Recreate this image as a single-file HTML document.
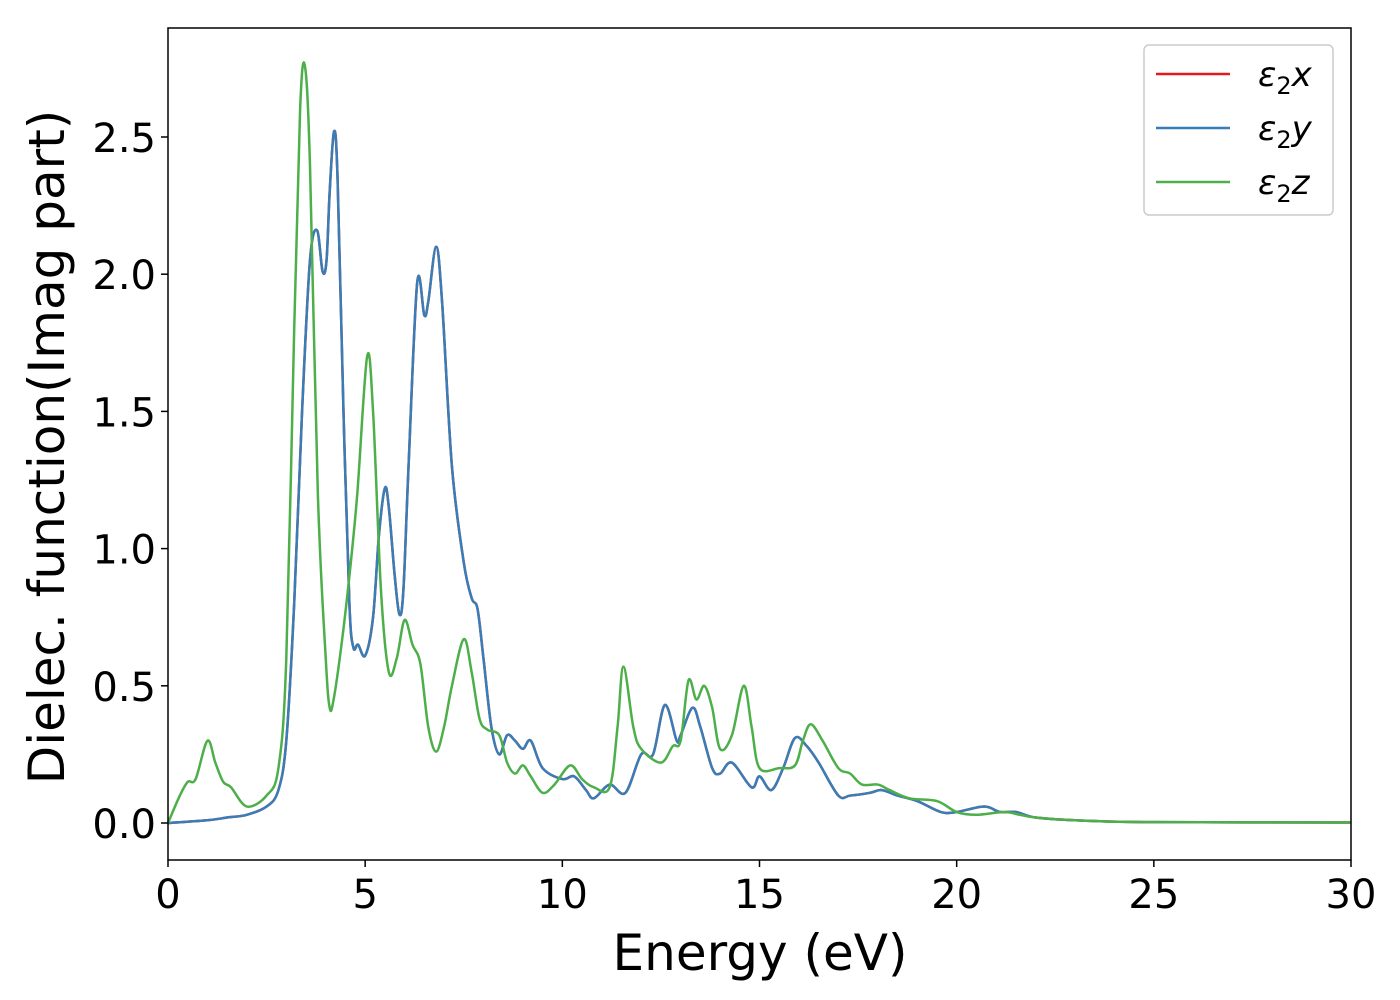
<!DOCTYPE html>
<html><head><meta charset="utf-8"><style>
html,body{margin:0;padding:0;background:#fff;}
svg{display:block;font-family:"DejaVu Sans","Liberation Sans",sans-serif;}
</style></head><body>
<svg id="chart" width="1400" height="1000">
<rect x="0" y="0" width="1400" height="1000" fill="#fff"/>
<g id="series"></g>
<rect x="168" y="28" width="1183" height="832" fill="none" stroke="#000" stroke-width="1.5"/>
<g id="axes"></g>
<text x="760" y="970" font-size="50" text-anchor="middle">Energy (eV)</text>
<text transform="translate(64,447) rotate(-90)" font-size="50" text-anchor="middle">Dielec. function(Imag part)</text>
<g>
<rect x="1144" y="45" width="189" height="170" rx="5" fill="#fff" fill-opacity="0.8" stroke="#ccc" stroke-width="1.5"/>
<g><line x1="1156" y1="74" x2="1230" y2="74" stroke="#e41a1c" stroke-width="2.5"/><text x="1258" y="86" font-size="34" font-style="italic">ε<tspan font-style="normal" font-size="24" dy="8">2</tspan><tspan dy="-8">x</tspan></text></g>
<g><line x1="1156" y1="128" x2="1230" y2="128" stroke="#377eb8" stroke-width="2.5"/><text x="1258" y="140" font-size="34" font-style="italic">ε<tspan font-style="normal" font-size="24" dy="8">2</tspan><tspan dy="-8">y</tspan></text></g>
<g><line x1="1156" y1="182" x2="1230" y2="182" stroke="#4daf4a" stroke-width="2.5"/><text x="1258" y="194" font-size="34" font-style="italic">ε<tspan font-style="normal" font-size="24" dy="8">2</tspan><tspan dy="-8">z</tspan></text></g>
</g>
</svg>
<script>
const xTicks=[0,5,10,15,20,25,30];
const yTicks=[0.0,0.5,1.0,1.5,2.0,2.5];
const energyXY=[0,1,1.5,2,2.5,2.8,3.0,3.2,3.4,3.6,3.78,3.92,4.02,4.1,4.21,4.3,4.45,4.6,4.7,4.82,5.0,5.2,5.35,5.5,5.6,5.75,5.87,5.97,6.1,6.32,6.5,6.6,6.8,6.95,7.2,7.5,7.7,7.85,8.0,8.2,8.4,8.6,8.8,9.0,9.2,9.5,10.0,10.3,10.6,10.8,11.2,11.6,12.0,12.3,12.6,12.9,13.0,13.3,13.5,13.8,14.0,14.3,14.8,15.0,15.3,15.6,15.9,16.2,16.5,17.0,17.3,17.8,18.1,18.5,19.0,19.6,20.0,20.7,21.1,21.5,22,23,25,30];
const eps2x=[0,0.01,0.02,0.03,0.06,0.12,0.3,0.8,1.5,2.05,2.16,2.01,2.05,2.3,2.52,2.35,1.5,0.8,0.64,0.65,0.61,0.75,1.05,1.22,1.15,0.9,0.76,0.85,1.3,1.97,1.85,1.9,2.1,1.9,1.3,0.95,0.82,0.78,0.6,0.35,0.25,0.32,0.3,0.27,0.3,0.2,0.16,0.17,0.12,0.09,0.14,0.11,0.25,0.25,0.43,0.3,0.32,0.42,0.35,0.2,0.18,0.22,0.13,0.17,0.12,0.2,0.31,0.28,0.22,0.1,0.1,0.11,0.12,0.1,0.08,0.04,0.04,0.06,0.04,0.04,0.02,0.01,0.003,0.002];
const eps2y=eps2x.slice();
const energyZ=[0,0.3,0.5,0.7,1.0,1.2,1.4,1.6,2.0,2.5,2.8,3.0,3.2,3.35,3.47,3.6,3.8,4.0,4.1,4.2,4.4,4.6,4.8,5.05,5.2,5.4,5.6,5.8,6.0,6.2,6.4,6.6,6.8,7.0,7.2,7.5,7.7,7.9,8.1,8.4,8.6,8.8,9.0,9.2,9.5,9.8,10.2,10.5,10.8,11.2,11.4,11.55,11.8,12.0,12.5,12.8,13.0,13.2,13.4,13.6,13.8,14.0,14.3,14.6,14.8,15.0,15.5,15.9,16.1,16.3,16.6,17.0,17.3,17.6,18.0,18.3,18.8,19.5,20.0,20.5,21.2,21.6,22,23,25,30];
const eps2z=[0,0.1,0.15,0.16,0.3,0.22,0.15,0.13,0.06,0.1,0.2,0.6,1.8,2.6,2.76,2.4,1.2,0.6,0.42,0.45,0.65,0.9,1.2,1.7,1.5,0.85,0.55,0.6,0.74,0.65,0.58,0.35,0.26,0.35,0.5,0.67,0.55,0.38,0.34,0.32,0.22,0.18,0.21,0.17,0.11,0.14,0.21,0.16,0.13,0.13,0.35,0.57,0.35,0.27,0.22,0.28,0.3,0.52,0.45,0.5,0.42,0.27,0.32,0.5,0.35,0.2,0.2,0.21,0.3,0.36,0.3,0.2,0.18,0.14,0.14,0.12,0.09,0.08,0.04,0.03,0.04,0.03,0.02,0.01,0.003,0.002];
const NS="http://www.w3.org/2000/svg";
const X=v=>168+v*(1183/30);
const Y=v=>823-v*274.4;
const axes=document.getElementById('axes');
function mk(t,a,p){const e=document.createElementNS(NS,t);for(const k in a)e.setAttribute(k,a[k]);p.appendChild(e);return e;}
xTicks.forEach(t=>{
  const l=mk('line',{x1:X(t),x2:X(t),y1:860,y2:867,stroke:'#000','stroke-width':1.5},axes);
  
  
  const s=mk('text',{x:X(t),y:908,'font-size':40,'text-anchor':'middle'},axes);
  s.textContent=String(t);
  
  
});
yTicks.forEach(t=>{
  const l=mk('line',{x1:161,x2:168,y1:Y(t),y2:Y(t),stroke:'#000','stroke-width':1.5},axes);
  
  
  const s=mk('text',{x:156,y:Y(t)+15,'font-size':40,'text-anchor':'end'},axes);
  s.textContent=t.toFixed(1);
  
  
});
function pathD(xs,ys){
  const p=xs.map((x,i)=>[X(x),Y(ys[i])]);
  let d='M'+p[0][0]+','+p[0][1];
  for(let i=0;i<p.length-1;i++){
    const p0=p[i-1]||p[i],p1=p[i],p2=p[i+1],p3=p[i+2]||p2;
    const c1=[p1[0]+(p2[0]-p0[0])/6,p1[1]+(p2[1]-p0[1])/6];
    const c2=[p2[0]-(p3[0]-p1[0])/6,p2[1]-(p3[1]-p1[1])/6];
    d+=' C'+c1+' '+c2+' '+p2;
  }
  return d;
}
const g=document.getElementById('series');
const sx=mk('path',{d:pathD(energyXY,eps2x),fill:'none',stroke:'#e41a1c','stroke-width':2.5},g);


const sy=mk('path',{d:pathD(energyXY,eps2y),fill:'none',stroke:'#377eb8','stroke-width':2.5},g);


const sz=mk('path',{d:pathD(energyZ,eps2z),fill:'none',stroke:'#4daf4a','stroke-width':2.5},g);


</script>
</body></html>
